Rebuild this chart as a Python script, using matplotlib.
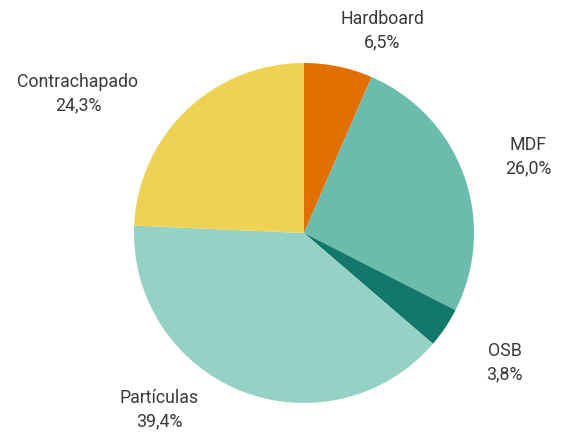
import numpy as np
import matplotlib
matplotlib.use('Agg')
from matplotlib import pyplot as plt

categories = ['Hardboard', 'MDF', 'OSB', 'Partículas', 'Contrachapado']
values = [6.5, 26.0, 3.8, 39.4, 24.3]
colors = ['#e17000', '#6cbcae', '#137869', '#96d1c5', '#edd254']

# label centres in units of the pie radius
label_pos = [(0.46, 1.19), (1.32, 0.45), (1.18, -0.76), (-0.85, -1.04), (-1.33, 0.82)]

plt.rcParams['font.family'] = ['Roboto', 'DejaVu Sans']

fig = plt.figure(figsize=(5.74, 4.34), dpi=100)
ax = fig.add_axes([0, 0, 1, 1])
ax.pie(values, colors=colors, startangle=90, counterclock=False, radius=1.0,
       wedgeprops={'linewidth': 0})
for name, v, (x, y) in zip(categories, values, label_pos):
    txt = name + '\n' + ('%.1f' % v).replace('.', ',') + '%'
    ax.text(x, y, txt, ha='center', va='center', fontsize=12.8,
            color='#3a3a3a', linespacing=1.38)
ax.set_aspect('equal')
ax.set_xlim(-304 / 170, 270 / 170)
ax.set_ylim(-201 / 170, 233 / 170)
ax.axis('off')
fig.savefig('out.png', dpi=100)
